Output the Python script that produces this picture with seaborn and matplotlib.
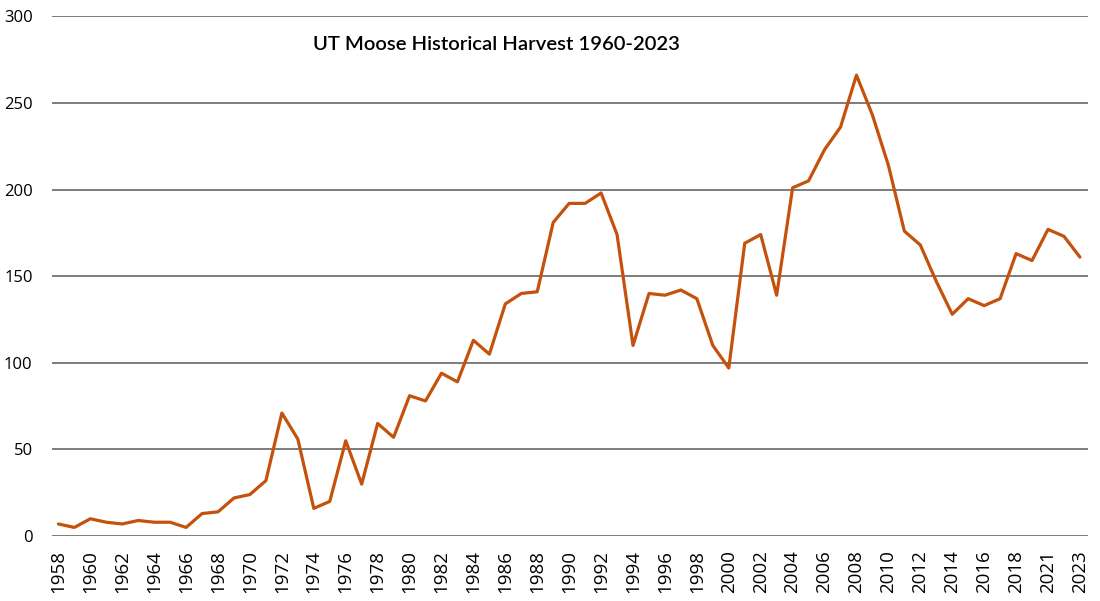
import numpy as np
import pandas as pd
import seaborn as sns
import matplotlib.pyplot as plt

# harvest by year (one year missing between 2018 and 2021 in the source)
years = [str(y) for y in range(1958, 2020)] + ["2021", "2022", "2023"]
harvest = [7, 5, 10, 8, 7, 9, 8, 8, 5, 13,
           14, 22, 24, 32, 71, 56, 16, 20, 55, 30,
           65, 57, 81, 78, 94, 89, 113, 105, 134, 140,
           141, 181, 192, 192, 198, 174, 110, 140, 139, 142,
           137, 110, 97, 169, 174, 139, 201, 205, 223, 236,
           266, 243, 214, 176, 168, 147, 128, 137, 133, 137,
           163, 159, 177, 173, 161]
y_ticks = [0, 50, 100, 150, 200, 250, 300]

df = pd.DataFrame({"idx": np.arange(len(years)), "year": years, "harvest": harvest})

sns.set_theme(style="white")
plt.rcParams['font.family'] = ['Open Sans', 'DejaVu Sans']

fig = plt.figure(figsize=(11, 6.01), dpi=100)
ax = fig.add_axes([0.0473, 0.108, 0.9417, 0.865])

for v in y_ticks:
    ax.axhline(v, color="#595959", lw=1.1, zorder=1)

sns.lineplot(data=df, x="idx", y="harvest", color="#C4510C", lw=2.3, ax=ax, zorder=3)

ax.set_xlim(-0.4, len(years) - 0.5)
ax.set_ylim(0, 300)
ax.set_yticks(y_ticks)
ax.set_yticklabels([str(v) for v in y_ticks], fontsize=12, color="black")
ax.set_xticks(df["idx"][::2])
ax.set_xticklabels(df["year"][::2], rotation=90, fontsize=13.5, color="black")
ax.tick_params(axis="y", length=0, pad=14)
ax.tick_params(axis="x", length=0, pad=10)
ax.set_xlabel("")
ax.set_ylabel("")
sns.despine(ax=ax, left=True, bottom=True)

ax.text(0.252, 0.945, "UT Moose Historical Harvest 1960-2023", transform=ax.transAxes,
        fontsize=14.6, fontweight="semibold", family=["Lato", "DejaVu Sans"], color="black",
        ha="left", va="center")

fig.savefig("out.png", dpi=100)
